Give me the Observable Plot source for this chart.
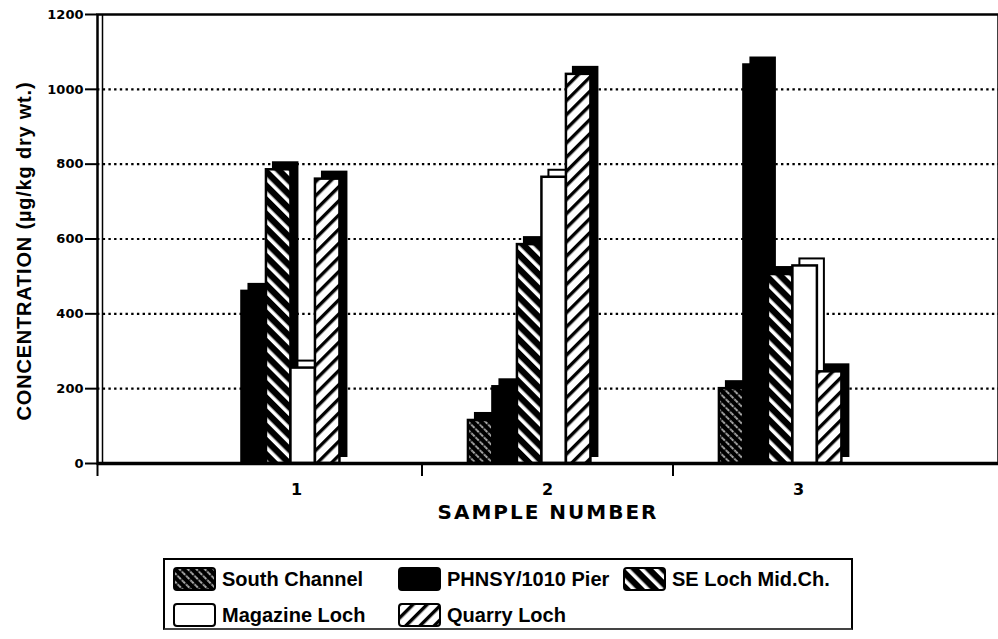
<!DOCTYPE html>
<html>
<head>
<meta charset="utf-8">
<script src="https://cdn.jsdelivr.net/npm/d3@7"></script>
<script src="https://cdn.jsdelivr.net/npm/@observablehq/plot@0.6"></script>
<style>
  html, body { margin: 0; padding: 0; background: #fff; }
  #wrap { position: relative; width: 998px; height: 639px; overflow: hidden; }
  .xlab text { letter-spacing: 2px; }
  .ylab text { letter-spacing: 0.8px; }
  #legend { position: absolute; left: 163px; top: 558px; width: 690px; height: 72px;
            box-sizing: border-box; border: 2px solid #000; border-bottom-color: #444; }
  .item { position: absolute; display: flex; align-items: center; height: 24px;
          font-family: "Liberation Sans", Arial, sans-serif; font-weight: bold; font-size: 20px; color: #000; }
  .item svg { margin-right: 6px; }
</style>
</head>
<body>
<svg width="0" height="0" style="position:absolute">
  <defs>
    <pattern id="p-south" patternUnits="userSpaceOnUse" width="6" height="6" patternTransform="rotate(-45)">
      <rect width="6" height="6" fill="black"/>
      <line x1="3" y1="0" x2="3" y2="6" stroke="white" stroke-width="1.3" stroke-dasharray="2.2 1.3"/>
    </pattern>
    <pattern id="p-se" patternUnits="userSpaceOnUse" width="10" height="10" patternTransform="rotate(-45)">
      <rect width="10" height="10" fill="black"/>
      <rect x="0" y="0" width="3.6" height="10" fill="white"/>
    </pattern>
    <pattern id="p-quarry" patternUnits="userSpaceOnUse" width="10" height="10" patternTransform="rotate(45)">
      <rect width="10" height="10" fill="white"/>
      <rect x="0" y="0" width="3.4" height="10" fill="black"/>
    </pattern>
  </defs>
</svg>
<div id="wrap">
  <div id="chart"></div>
  <div id="legend"></div>
</div>
<script>
// ---- data ----
const samples = [1, 2, 3];
const xLabels = ["1", "2", "3"];
const series = ["South Channel", "PHNSY/1010 Pier", "SE Loch Mid.Ch.", "Magazine Loch", "Quarry Loch"];
const southChannel = [0, 115, 200];
const phnsy = [460, 205, 1065];
const seLoch = [785, 585, 505];
const magazine = [255, 765, 528];
const quarry = [760, 1040, 245];
const yTicks = [0, 200, 400, 600, 800, 1000, 1200];
const gridTicks = [200, 400, 600, 800, 1000];
const yLabel = "CONCENTRATION (µg/kg dry wt.)";
const xLabel = "SAMPLE NUMBER";

// ---- styles / derived ----
const seriesValues = [southChannel, phnsy, seLoch, magazine, quarry];
const fills = ["url(#p-south)", "black", "url(#p-se)", "white", "url(#p-quarry)"];
const rows = samples.flatMap((s, i) =>
  series.map((name, k) => ({sample: s, series: name, k, value: seriesValues[k][i]})));
const drawn = rows.filter(d => d.value > 0);

const xDomain = [0.207, 3.797];
const barStep = 0.0976;
const groupStart = -0.315;
const depth = 7;
const x1 = d => d.sample + groupStart + d.k * barStep;
const x2 = d => x1(d) + barStep;
const boundaries = [xDomain[0], 1.5, 2.5];

const chart = Plot.plot({
  width: 998,
  height: 545,
  marginTop: 14,
  marginBottom: 82,
  marginLeft: 97,
  marginRight: 0,
  style: {background: "white", color: "black", fontFamily: "DejaVu Sans", fontWeight: "bold"},
  x: {domain: xDomain, axis: null},
  y: {domain: [0, 1200], axis: null},
  color: {domain: series, range: fills},
  marks: [
    Plot.ruleY(gridTicks, {stroke: "black", strokeWidth: 2.2, strokeDasharray: "2.4 3.3"}),
    // 3D depth behind each bar
    Plot.rectY(drawn.filter(d => d.k !== 3), {x1, x2, y: "value", dx: depth, dy: -depth,
      fill: "black", stroke: "black", strokeWidth: 2}),
    Plot.rectY(drawn.filter(d => d.k === 3), {x1, x2, y: "value", dx: depth, dy: -depth,
      fill: "white", stroke: "black", strokeWidth: 2}),
    // front faces
    Plot.rectY(drawn, {x1, x2, y: "value", fill: "series", stroke: "black", strokeWidth: 2.5}),
    Plot.frame({stroke: "black", strokeWidth: 2.5}),
    Plot.ruleX([xDomain[0]], {dx: 5, stroke: "black", strokeWidth: 1.5}),
    Plot.ruleY([0], {stroke: "black", strokeWidth: 3.5}),
    Plot.axisY({ticks: yTicks, tickSize: 12, tickPadding: 2, fontSize: 13, fontWeight: "bold",
      strokeWidth: 2, label: null, tickFormat: d => String(d)}),
    Plot.axisX({ticks: boundaries, tickSize: 13, strokeWidth: 2, tickFormat: () => "", label: null}),
    Plot.axisX({ticks: samples, tickSize: 0, tickPadding: 20, fontSize: 16, fontWeight: "bold",
      tickFormat: (d, i) => xLabels[samples.indexOf(d)], label: null}),
    Plot.text([yLabel], {frameAnchor: "left", textAnchor: "middle", rotate: -90, dx: -73, dy: 12,
      fontSize: 20, fontFamily: "Liberation Sans", fontWeight: "bold", className: "ylab"}),
    Plot.text([xLabel], {frameAnchor: "bottom", dy: 55, fontSize: 20, fontFamily: "DejaVu Sans",
      fontWeight: "bold", className: "xlab"})
  ]
});
document.getElementById("chart").appendChild(chart);

// ---- legend ----
const legend = document.getElementById("legend");
series.forEach((name, k) => {
  const col = k % 3, row = Math.floor(k / 3);
  const item = document.createElement("div");
  item.className = "item";
  item.style.left = (8 + col * 225) + "px";
  item.style.top = (7 + row * 36) + "px";
  item.innerHTML = `<svg width="43" height="24"><rect x="1" y="1" width="41" height="22" rx="3"
      fill="${fills[k]}" stroke="black" stroke-width="2"/></svg><span>${name}</span>`;
  legend.appendChild(item);
});
</script>
</body>
</html>
